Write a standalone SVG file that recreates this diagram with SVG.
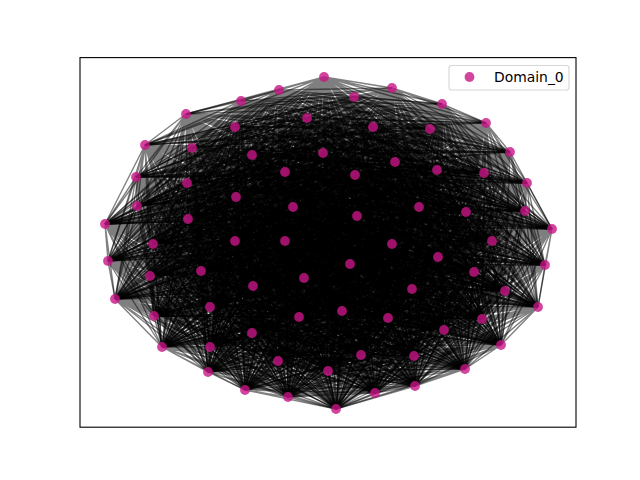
<svg xmlns="http://www.w3.org/2000/svg" width="640" height="480" viewBox="0 0 640 480">
<style>
.e{fill:none;stroke:#000;stroke-opacity:0.5;stroke-width:1.39;stroke-linejoin:bevel}
.n{fill:#c71585;fill-opacity:0.8}
.t{font-family:"DejaVu Sans",sans-serif;font-size:13.9px;fill:#000}
</style>
<rect x="0" y="0" width="640" height="480" fill="#fff"/>
<g id="connectors">
<path class="e" d="M324 77L279 90ZL392 88ZL241 101ZL354 97ZL442 104ZL186 114ZL307 118ZL373 127ZL486 123ZL235 127ZL430 129ZL145 145ZL192 148ZL252 155ZL323 153ZL395 162ZL510 152ZL285 172ZL355 175ZL437 170ZL484 173ZL136 177ZL187 183ZL527 183ZL137 206ZL236 197ZL293 207ZL419 207ZL466 212ZL525 211ZL188 219ZL357 216ZL105 224ZL552 229ZL153 244ZL235 241ZL285 241ZL392 244ZL492 241ZL108 261ZL350 264ZL438 257ZL545 265ZL150 276ZL201 271ZL474 272ZL304 278ZL253 286ZL412 289ZL505 291ZL115 299ZL538 307ZL210 307ZL342 311ZL299 317ZL388 318ZL482 319ZL154 316ZL444 330ZL252 333ZL501 345ZL162 347ZL210 347ZL361 355ZL414 356ZL278 361ZL208 372ZL328 371ZL465 369ZL245 390ZL415 386ZL375 393ZL288 397ZL336 409Z"/>
<path class="e" d="M279 90L392 88ZL241 101ZL354 97ZL442 104ZL186 114ZL307 118ZL373 127ZL486 123ZL235 127ZL430 129ZL145 145ZL192 148ZL252 155ZL323 153ZL395 162ZL510 152ZL285 172ZL355 175ZL437 170ZL484 173ZL136 177ZL187 183ZL527 183ZL137 206ZL236 197ZL293 207ZL419 207ZL466 212ZL525 211ZL188 219ZL357 216ZL105 224ZL552 229ZL153 244ZL235 241ZL285 241ZL392 244ZL492 241ZL108 261ZL350 264ZL438 257ZL545 265ZL150 276ZL201 271ZL474 272ZL304 278ZL253 286ZL412 289ZL505 291ZL115 299ZL538 307ZL210 307ZL342 311ZL299 317ZL388 318ZL482 319ZL154 316ZL444 330ZL252 333ZL501 345ZL162 347ZL210 347ZL361 355ZL414 356ZL278 361ZL208 372ZL328 371ZL465 369ZL245 390ZL415 386ZL375 393ZL288 397ZL336 409Z"/>
<path class="e" d="M392 88L241 101ZL354 97ZL442 104ZL186 114ZL307 118ZL373 127ZL486 123ZL235 127ZL430 129ZL145 145ZL192 148ZL252 155ZL323 153ZL395 162ZL510 152ZL285 172ZL355 175ZL437 170ZL484 173ZL136 177ZL187 183ZL527 183ZL137 206ZL236 197ZL293 207ZL419 207ZL466 212ZL525 211ZL188 219ZL357 216ZL105 224ZL552 229ZL153 244ZL235 241ZL285 241ZL392 244ZL492 241ZL108 261ZL350 264ZL438 257ZL545 265ZL150 276ZL201 271ZL474 272ZL304 278ZL253 286ZL412 289ZL505 291ZL115 299ZL538 307ZL210 307ZL342 311ZL299 317ZL388 318ZL482 319ZL154 316ZL444 330ZL252 333ZL501 345ZL162 347ZL210 347ZL361 355ZL414 356ZL278 361ZL208 372ZL328 371ZL465 369ZL245 390ZL415 386ZL375 393ZL288 397ZL336 409Z"/>
<path class="e" d="M241 101L354 97ZL442 104ZL186 114ZL307 118ZL373 127ZL486 123ZL235 127ZL430 129ZL145 145ZL192 148ZL252 155ZL323 153ZL395 162ZL510 152ZL285 172ZL355 175ZL437 170ZL484 173ZL136 177ZL187 183ZL527 183ZL137 206ZL236 197ZL293 207ZL419 207ZL466 212ZL525 211ZL188 219ZL357 216ZL105 224ZL552 229ZL153 244ZL235 241ZL285 241ZL392 244ZL492 241ZL108 261ZL350 264ZL438 257ZL545 265ZL150 276ZL201 271ZL474 272ZL304 278ZL253 286ZL412 289ZL505 291ZL115 299ZL538 307ZL210 307ZL342 311ZL299 317ZL388 318ZL482 319ZL154 316ZL444 330ZL252 333ZL501 345ZL162 347ZL210 347ZL361 355ZL414 356ZL278 361ZL208 372ZL328 371ZL465 369ZL245 390ZL415 386ZL375 393ZL288 397ZL336 409Z"/>
<path class="e" d="M354 97L442 104ZL186 114ZL307 118ZL373 127ZL486 123ZL235 127ZL430 129ZL145 145ZL192 148ZL252 155ZL323 153ZL395 162ZL510 152ZL285 172ZL355 175ZL437 170ZL484 173ZL136 177ZL187 183ZL527 183ZL137 206ZL236 197ZL293 207ZL419 207ZL466 212ZL525 211ZL188 219ZL357 216ZL105 224ZL552 229ZL153 244ZL235 241ZL285 241ZL392 244ZL492 241ZL108 261ZL350 264ZL438 257ZL545 265ZL150 276ZL201 271ZL474 272ZL304 278ZL253 286ZL412 289ZL505 291ZL115 299ZL538 307ZL210 307ZL342 311ZL299 317ZL388 318ZL482 319ZL154 316ZL444 330ZL252 333ZL501 345ZL162 347ZL210 347ZL361 355ZL414 356ZL278 361ZL208 372ZL328 371ZL465 369ZL245 390ZL415 386ZL375 393ZL288 397ZL336 409Z"/>
<path class="e" d="M442 104L186 114ZL307 118ZL373 127ZL486 123ZL235 127ZL430 129ZL145 145ZL192 148ZL252 155ZL323 153ZL395 162ZL510 152ZL285 172ZL355 175ZL437 170ZL484 173ZL136 177ZL187 183ZL527 183ZL137 206ZL236 197ZL293 207ZL419 207ZL466 212ZL525 211ZL188 219ZL357 216ZL105 224ZL552 229ZL153 244ZL235 241ZL285 241ZL392 244ZL492 241ZL108 261ZL350 264ZL438 257ZL545 265ZL150 276ZL201 271ZL474 272ZL304 278ZL253 286ZL412 289ZL505 291ZL115 299ZL538 307ZL210 307ZL342 311ZL299 317ZL388 318ZL482 319ZL154 316ZL444 330ZL252 333ZL501 345ZL162 347ZL210 347ZL361 355ZL414 356ZL278 361ZL208 372ZL328 371ZL465 369ZL245 390ZL415 386ZL375 393ZL288 397ZL336 409Z"/>
<path class="e" d="M186 114L307 118ZL373 127ZL486 123ZL235 127ZL430 129ZL145 145ZL192 148ZL252 155ZL323 153ZL395 162ZL510 152ZL285 172ZL355 175ZL437 170ZL484 173ZL136 177ZL187 183ZL527 183ZL137 206ZL236 197ZL293 207ZL419 207ZL466 212ZL525 211ZL188 219ZL357 216ZL105 224ZL552 229ZL153 244ZL235 241ZL285 241ZL392 244ZL492 241ZL108 261ZL350 264ZL438 257ZL545 265ZL150 276ZL201 271ZL474 272ZL304 278ZL253 286ZL412 289ZL505 291ZL115 299ZL538 307ZL210 307ZL342 311ZL299 317ZL388 318ZL482 319ZL154 316ZL444 330ZL252 333ZL501 345ZL162 347ZL210 347ZL361 355ZL414 356ZL278 361ZL208 372ZL328 371ZL465 369ZL245 390ZL415 386ZL375 393ZL288 397ZL336 409Z"/>
<path class="e" d="M307 118L373 127ZL486 123ZL235 127ZL430 129ZL145 145ZL192 148ZL252 155ZL323 153ZL395 162ZL510 152ZL285 172ZL355 175ZL437 170ZL484 173ZL136 177ZL187 183ZL527 183ZL137 206ZL236 197ZL293 207ZL419 207ZL466 212ZL525 211ZL188 219ZL357 216ZL105 224ZL552 229ZL153 244ZL235 241ZL285 241ZL392 244ZL492 241ZL108 261ZL350 264ZL438 257ZL545 265ZL150 276ZL201 271ZL474 272ZL304 278ZL253 286ZL412 289ZL505 291ZL115 299ZL538 307ZL210 307ZL342 311ZL299 317ZL388 318ZL482 319ZL154 316ZL444 330ZL252 333ZL501 345ZL162 347ZL210 347ZL361 355ZL414 356ZL278 361ZL208 372ZL328 371ZL465 369ZL245 390ZL415 386ZL375 393ZL288 397ZL336 409Z"/>
<path class="e" d="M373 127L486 123ZL235 127ZL430 129ZL145 145ZL192 148ZL252 155ZL323 153ZL395 162ZL510 152ZL285 172ZL355 175ZL437 170ZL484 173ZL136 177ZL187 183ZL527 183ZL137 206ZL236 197ZL293 207ZL419 207ZL466 212ZL525 211ZL188 219ZL357 216ZL105 224ZL552 229ZL153 244ZL235 241ZL285 241ZL392 244ZL492 241ZL108 261ZL350 264ZL438 257ZL545 265ZL150 276ZL201 271ZL474 272ZL304 278ZL253 286ZL412 289ZL505 291ZL115 299ZL538 307ZL210 307ZL342 311ZL299 317ZL388 318ZL482 319ZL154 316ZL444 330ZL252 333ZL501 345ZL162 347ZL210 347ZL361 355ZL414 356ZL278 361ZL208 372ZL328 371ZL465 369ZL245 390ZL415 386ZL375 393ZL288 397ZL336 409Z"/>
<path class="e" d="M486 123L235 127ZL430 129ZL145 145ZL192 148ZL252 155ZL323 153ZL395 162ZL510 152ZL285 172ZL355 175ZL437 170ZL484 173ZL136 177ZL187 183ZL527 183ZL137 206ZL236 197ZL293 207ZL419 207ZL466 212ZL525 211ZL188 219ZL357 216ZL105 224ZL552 229ZL153 244ZL235 241ZL285 241ZL392 244ZL492 241ZL108 261ZL350 264ZL438 257ZL545 265ZL150 276ZL201 271ZL474 272ZL304 278ZL253 286ZL412 289ZL505 291ZL115 299ZL538 307ZL210 307ZL342 311ZL299 317ZL388 318ZL482 319ZL154 316ZL444 330ZL252 333ZL501 345ZL162 347ZL210 347ZL361 355ZL414 356ZL278 361ZL208 372ZL328 371ZL465 369ZL245 390ZL415 386ZL375 393ZL288 397ZL336 409Z"/>
<path class="e" d="M235 127L430 129ZL145 145ZL192 148ZL252 155ZL323 153ZL395 162ZL510 152ZL285 172ZL355 175ZL437 170ZL484 173ZL136 177ZL187 183ZL527 183ZL137 206ZL236 197ZL293 207ZL419 207ZL466 212ZL525 211ZL188 219ZL357 216ZL105 224ZL552 229ZL153 244ZL235 241ZL285 241ZL392 244ZL492 241ZL108 261ZL350 264ZL438 257ZL545 265ZL150 276ZL201 271ZL474 272ZL304 278ZL253 286ZL412 289ZL505 291ZL115 299ZL538 307ZL210 307ZL342 311ZL299 317ZL388 318ZL482 319ZL154 316ZL444 330ZL252 333ZL501 345ZL162 347ZL210 347ZL361 355ZL414 356ZL278 361ZL208 372ZL328 371ZL465 369ZL245 390ZL415 386ZL375 393ZL288 397ZL336 409Z"/>
<path class="e" d="M430 129L145 145ZL192 148ZL252 155ZL323 153ZL395 162ZL510 152ZL285 172ZL355 175ZL437 170ZL484 173ZL136 177ZL187 183ZL527 183ZL137 206ZL236 197ZL293 207ZL419 207ZL466 212ZL525 211ZL188 219ZL357 216ZL105 224ZL552 229ZL153 244ZL235 241ZL285 241ZL392 244ZL492 241ZL108 261ZL350 264ZL438 257ZL545 265ZL150 276ZL201 271ZL474 272ZL304 278ZL253 286ZL412 289ZL505 291ZL115 299ZL538 307ZL210 307ZL342 311ZL299 317ZL388 318ZL482 319ZL154 316ZL444 330ZL252 333ZL501 345ZL162 347ZL210 347ZL361 355ZL414 356ZL278 361ZL208 372ZL328 371ZL465 369ZL245 390ZL415 386ZL375 393ZL288 397ZL336 409Z"/>
<path class="e" d="M145 145L192 148ZL252 155ZL323 153ZL395 162ZL510 152ZL285 172ZL355 175ZL437 170ZL484 173ZL136 177ZL187 183ZL527 183ZL137 206ZL236 197ZL293 207ZL419 207ZL466 212ZL525 211ZL188 219ZL357 216ZL105 224ZL552 229ZL153 244ZL235 241ZL285 241ZL392 244ZL492 241ZL108 261ZL350 264ZL438 257ZL545 265ZL150 276ZL201 271ZL474 272ZL304 278ZL253 286ZL412 289ZL505 291ZL115 299ZL538 307ZL210 307ZL342 311ZL299 317ZL388 318ZL482 319ZL154 316ZL444 330ZL252 333ZL501 345ZL162 347ZL210 347ZL361 355ZL414 356ZL278 361ZL208 372ZL328 371ZL465 369ZL245 390ZL415 386ZL375 393ZL288 397ZL336 409Z"/>
<path class="e" d="M192 148L252 155ZL323 153ZL395 162ZL510 152ZL285 172ZL355 175ZL437 170ZL484 173ZL136 177ZL187 183ZL527 183ZL137 206ZL236 197ZL293 207ZL419 207ZL466 212ZL525 211ZL188 219ZL357 216ZL105 224ZL552 229ZL153 244ZL235 241ZL285 241ZL392 244ZL492 241ZL108 261ZL350 264ZL438 257ZL545 265ZL150 276ZL201 271ZL474 272ZL304 278ZL253 286ZL412 289ZL505 291ZL115 299ZL538 307ZL210 307ZL342 311ZL299 317ZL388 318ZL482 319ZL154 316ZL444 330ZL252 333ZL501 345ZL162 347ZL210 347ZL361 355ZL414 356ZL278 361ZL208 372ZL328 371ZL465 369ZL245 390ZL415 386ZL375 393ZL288 397ZL336 409Z"/>
<path class="e" d="M252 155L323 153ZL395 162ZL510 152ZL285 172ZL355 175ZL437 170ZL484 173ZL136 177ZL187 183ZL527 183ZL137 206ZL236 197ZL293 207ZL419 207ZL466 212ZL525 211ZL188 219ZL357 216ZL105 224ZL552 229ZL153 244ZL235 241ZL285 241ZL392 244ZL492 241ZL108 261ZL350 264ZL438 257ZL545 265ZL150 276ZL201 271ZL474 272ZL304 278ZL253 286ZL412 289ZL505 291ZL115 299ZL538 307ZL210 307ZL342 311ZL299 317ZL388 318ZL482 319ZL154 316ZL444 330ZL252 333ZL501 345ZL162 347ZL210 347ZL361 355ZL414 356ZL278 361ZL208 372ZL328 371ZL465 369ZL245 390ZL415 386ZL375 393ZL288 397ZL336 409Z"/>
<path class="e" d="M323 153L395 162ZL510 152ZL285 172ZL355 175ZL437 170ZL484 173ZL136 177ZL187 183ZL527 183ZL137 206ZL236 197ZL293 207ZL419 207ZL466 212ZL525 211ZL188 219ZL357 216ZL105 224ZL552 229ZL153 244ZL235 241ZL285 241ZL392 244ZL492 241ZL108 261ZL350 264ZL438 257ZL545 265ZL150 276ZL201 271ZL474 272ZL304 278ZL253 286ZL412 289ZL505 291ZL115 299ZL538 307ZL210 307ZL342 311ZL299 317ZL388 318ZL482 319ZL154 316ZL444 330ZL252 333ZL501 345ZL162 347ZL210 347ZL361 355ZL414 356ZL278 361ZL208 372ZL328 371ZL465 369ZL245 390ZL415 386ZL375 393ZL288 397ZL336 409Z"/>
<path class="e" d="M395 162L510 152ZL285 172ZL355 175ZL437 170ZL484 173ZL136 177ZL187 183ZL527 183ZL137 206ZL236 197ZL293 207ZL419 207ZL466 212ZL525 211ZL188 219ZL357 216ZL105 224ZL552 229ZL153 244ZL235 241ZL285 241ZL392 244ZL492 241ZL108 261ZL350 264ZL438 257ZL545 265ZL150 276ZL201 271ZL474 272ZL304 278ZL253 286ZL412 289ZL505 291ZL115 299ZL538 307ZL210 307ZL342 311ZL299 317ZL388 318ZL482 319ZL154 316ZL444 330ZL252 333ZL501 345ZL162 347ZL210 347ZL361 355ZL414 356ZL278 361ZL208 372ZL328 371ZL465 369ZL245 390ZL415 386ZL375 393ZL288 397ZL336 409Z"/>
<path class="e" d="M510 152L285 172ZL355 175ZL437 170ZL484 173ZL136 177ZL187 183ZL527 183ZL137 206ZL236 197ZL293 207ZL419 207ZL466 212ZL525 211ZL188 219ZL357 216ZL105 224ZL552 229ZL153 244ZL235 241ZL285 241ZL392 244ZL492 241ZL108 261ZL350 264ZL438 257ZL545 265ZL150 276ZL201 271ZL474 272ZL304 278ZL253 286ZL412 289ZL505 291ZL115 299ZL538 307ZL210 307ZL342 311ZL299 317ZL388 318ZL482 319ZL154 316ZL444 330ZL252 333ZL501 345ZL162 347ZL210 347ZL361 355ZL414 356ZL278 361ZL208 372ZL328 371ZL465 369ZL245 390ZL415 386ZL375 393ZL288 397ZL336 409Z"/>
<path class="e" d="M285 172L355 175ZL437 170ZL484 173ZL136 177ZL187 183ZL527 183ZL137 206ZL236 197ZL293 207ZL419 207ZL466 212ZL525 211ZL188 219ZL357 216ZL105 224ZL552 229ZL153 244ZL235 241ZL285 241ZL392 244ZL492 241ZL108 261ZL350 264ZL438 257ZL545 265ZL150 276ZL201 271ZL474 272ZL304 278ZL253 286ZL412 289ZL505 291ZL115 299ZL538 307ZL210 307ZL342 311ZL299 317ZL388 318ZL482 319ZL154 316ZL444 330ZL252 333ZL501 345ZL162 347ZL210 347ZL361 355ZL414 356ZL278 361ZL208 372ZL328 371ZL465 369ZL245 390ZL415 386ZL375 393ZL288 397ZL336 409Z"/>
<path class="e" d="M355 175L437 170ZL484 173ZL136 177ZL187 183ZL527 183ZL137 206ZL236 197ZL293 207ZL419 207ZL466 212ZL525 211ZL188 219ZL357 216ZL105 224ZL552 229ZL153 244ZL235 241ZL285 241ZL392 244ZL492 241ZL108 261ZL350 264ZL438 257ZL545 265ZL150 276ZL201 271ZL474 272ZL304 278ZL253 286ZL412 289ZL505 291ZL115 299ZL538 307ZL210 307ZL342 311ZL299 317ZL388 318ZL482 319ZL154 316ZL444 330ZL252 333ZL501 345ZL162 347ZL210 347ZL361 355ZL414 356ZL278 361ZL208 372ZL328 371ZL465 369ZL245 390ZL415 386ZL375 393ZL288 397ZL336 409Z"/>
<path class="e" d="M437 170L484 173ZL136 177ZL187 183ZL527 183ZL137 206ZL236 197ZL293 207ZL419 207ZL466 212ZL525 211ZL188 219ZL357 216ZL105 224ZL552 229ZL153 244ZL235 241ZL285 241ZL392 244ZL492 241ZL108 261ZL350 264ZL438 257ZL545 265ZL150 276ZL201 271ZL474 272ZL304 278ZL253 286ZL412 289ZL505 291ZL115 299ZL538 307ZL210 307ZL342 311ZL299 317ZL388 318ZL482 319ZL154 316ZL444 330ZL252 333ZL501 345ZL162 347ZL210 347ZL361 355ZL414 356ZL278 361ZL208 372ZL328 371ZL465 369ZL245 390ZL415 386ZL375 393ZL288 397ZL336 409Z"/>
<path class="e" d="M484 173L136 177ZL187 183ZL527 183ZL137 206ZL236 197ZL293 207ZL419 207ZL466 212ZL525 211ZL188 219ZL357 216ZL105 224ZL552 229ZL153 244ZL235 241ZL285 241ZL392 244ZL492 241ZL108 261ZL350 264ZL438 257ZL545 265ZL150 276ZL201 271ZL474 272ZL304 278ZL253 286ZL412 289ZL505 291ZL115 299ZL538 307ZL210 307ZL342 311ZL299 317ZL388 318ZL482 319ZL154 316ZL444 330ZL252 333ZL501 345ZL162 347ZL210 347ZL361 355ZL414 356ZL278 361ZL208 372ZL328 371ZL465 369ZL245 390ZL415 386ZL375 393ZL288 397ZL336 409Z"/>
<path class="e" d="M136 177L187 183ZL527 183ZL137 206ZL236 197ZL293 207ZL419 207ZL466 212ZL525 211ZL188 219ZL357 216ZL105 224ZL552 229ZL153 244ZL235 241ZL285 241ZL392 244ZL492 241ZL108 261ZL350 264ZL438 257ZL545 265ZL150 276ZL201 271ZL474 272ZL304 278ZL253 286ZL412 289ZL505 291ZL115 299ZL538 307ZL210 307ZL342 311ZL299 317ZL388 318ZL482 319ZL154 316ZL444 330ZL252 333ZL501 345ZL162 347ZL210 347ZL361 355ZL414 356ZL278 361ZL208 372ZL328 371ZL465 369ZL245 390ZL415 386ZL375 393ZL288 397ZL336 409Z"/>
<path class="e" d="M187 183L527 183ZL137 206ZL236 197ZL293 207ZL419 207ZL466 212ZL525 211ZL188 219ZL357 216ZL105 224ZL552 229ZL153 244ZL235 241ZL285 241ZL392 244ZL492 241ZL108 261ZL350 264ZL438 257ZL545 265ZL150 276ZL201 271ZL474 272ZL304 278ZL253 286ZL412 289ZL505 291ZL115 299ZL538 307ZL210 307ZL342 311ZL299 317ZL388 318ZL482 319ZL154 316ZL444 330ZL252 333ZL501 345ZL162 347ZL210 347ZL361 355ZL414 356ZL278 361ZL208 372ZL328 371ZL465 369ZL245 390ZL415 386ZL375 393ZL288 397ZL336 409Z"/>
<path class="e" d="M527 183L137 206ZL236 197ZL293 207ZL419 207ZL466 212ZL525 211ZL188 219ZL357 216ZL105 224ZL552 229ZL153 244ZL235 241ZL285 241ZL392 244ZL492 241ZL108 261ZL350 264ZL438 257ZL545 265ZL150 276ZL201 271ZL474 272ZL304 278ZL253 286ZL412 289ZL505 291ZL115 299ZL538 307ZL210 307ZL342 311ZL299 317ZL388 318ZL482 319ZL154 316ZL444 330ZL252 333ZL501 345ZL162 347ZL210 347ZL361 355ZL414 356ZL278 361ZL208 372ZL328 371ZL465 369ZL245 390ZL415 386ZL375 393ZL288 397ZL336 409Z"/>
<path class="e" d="M137 206L236 197ZL293 207ZL419 207ZL466 212ZL525 211ZL188 219ZL357 216ZL105 224ZL552 229ZL153 244ZL235 241ZL285 241ZL392 244ZL492 241ZL108 261ZL350 264ZL438 257ZL545 265ZL150 276ZL201 271ZL474 272ZL304 278ZL253 286ZL412 289ZL505 291ZL115 299ZL538 307ZL210 307ZL342 311ZL299 317ZL388 318ZL482 319ZL154 316ZL444 330ZL252 333ZL501 345ZL162 347ZL210 347ZL361 355ZL414 356ZL278 361ZL208 372ZL328 371ZL465 369ZL245 390ZL415 386ZL375 393ZL288 397ZL336 409Z"/>
<path class="e" d="M236 197L293 207ZL419 207ZL466 212ZL525 211ZL188 219ZL357 216ZL105 224ZL552 229ZL153 244ZL235 241ZL285 241ZL392 244ZL492 241ZL108 261ZL350 264ZL438 257ZL545 265ZL150 276ZL201 271ZL474 272ZL304 278ZL253 286ZL412 289ZL505 291ZL115 299ZL538 307ZL210 307ZL342 311ZL299 317ZL388 318ZL482 319ZL154 316ZL444 330ZL252 333ZL501 345ZL162 347ZL210 347ZL361 355ZL414 356ZL278 361ZL208 372ZL328 371ZL465 369ZL245 390ZL415 386ZL375 393ZL288 397ZL336 409Z"/>
<path class="e" d="M293 207L419 207ZL466 212ZL525 211ZL188 219ZL357 216ZL105 224ZL552 229ZL153 244ZL235 241ZL285 241ZL392 244ZL492 241ZL108 261ZL350 264ZL438 257ZL545 265ZL150 276ZL201 271ZL474 272ZL304 278ZL253 286ZL412 289ZL505 291ZL115 299ZL538 307ZL210 307ZL342 311ZL299 317ZL388 318ZL482 319ZL154 316ZL444 330ZL252 333ZL501 345ZL162 347ZL210 347ZL361 355ZL414 356ZL278 361ZL208 372ZL328 371ZL465 369ZL245 390ZL415 386ZL375 393ZL288 397ZL336 409Z"/>
<path class="e" d="M419 207L466 212ZL525 211ZL188 219ZL357 216ZL105 224ZL552 229ZL153 244ZL235 241ZL285 241ZL392 244ZL492 241ZL108 261ZL350 264ZL438 257ZL545 265ZL150 276ZL201 271ZL474 272ZL304 278ZL253 286ZL412 289ZL505 291ZL115 299ZL538 307ZL210 307ZL342 311ZL299 317ZL388 318ZL482 319ZL154 316ZL444 330ZL252 333ZL501 345ZL162 347ZL210 347ZL361 355ZL414 356ZL278 361ZL208 372ZL328 371ZL465 369ZL245 390ZL415 386ZL375 393ZL288 397ZL336 409Z"/>
<path class="e" d="M466 212L525 211ZL188 219ZL357 216ZL105 224ZL552 229ZL153 244ZL235 241ZL285 241ZL392 244ZL492 241ZL108 261ZL350 264ZL438 257ZL545 265ZL150 276ZL201 271ZL474 272ZL304 278ZL253 286ZL412 289ZL505 291ZL115 299ZL538 307ZL210 307ZL342 311ZL299 317ZL388 318ZL482 319ZL154 316ZL444 330ZL252 333ZL501 345ZL162 347ZL210 347ZL361 355ZL414 356ZL278 361ZL208 372ZL328 371ZL465 369ZL245 390ZL415 386ZL375 393ZL288 397ZL336 409Z"/>
<path class="e" d="M525 211L188 219ZL357 216ZL105 224ZL552 229ZL153 244ZL235 241ZL285 241ZL392 244ZL492 241ZL108 261ZL350 264ZL438 257ZL545 265ZL150 276ZL201 271ZL474 272ZL304 278ZL253 286ZL412 289ZL505 291ZL115 299ZL538 307ZL210 307ZL342 311ZL299 317ZL388 318ZL482 319ZL154 316ZL444 330ZL252 333ZL501 345ZL162 347ZL210 347ZL361 355ZL414 356ZL278 361ZL208 372ZL328 371ZL465 369ZL245 390ZL415 386ZL375 393ZL288 397ZL336 409Z"/>
<path class="e" d="M188 219L357 216ZL105 224ZL552 229ZL153 244ZL235 241ZL285 241ZL392 244ZL492 241ZL108 261ZL350 264ZL438 257ZL545 265ZL150 276ZL201 271ZL474 272ZL304 278ZL253 286ZL412 289ZL505 291ZL115 299ZL538 307ZL210 307ZL342 311ZL299 317ZL388 318ZL482 319ZL154 316ZL444 330ZL252 333ZL501 345ZL162 347ZL210 347ZL361 355ZL414 356ZL278 361ZL208 372ZL328 371ZL465 369ZL245 390ZL415 386ZL375 393ZL288 397ZL336 409Z"/>
<path class="e" d="M357 216L105 224ZL552 229ZL153 244ZL235 241ZL285 241ZL392 244ZL492 241ZL108 261ZL350 264ZL438 257ZL545 265ZL150 276ZL201 271ZL474 272ZL304 278ZL253 286ZL412 289ZL505 291ZL115 299ZL538 307ZL210 307ZL342 311ZL299 317ZL388 318ZL482 319ZL154 316ZL444 330ZL252 333ZL501 345ZL162 347ZL210 347ZL361 355ZL414 356ZL278 361ZL208 372ZL328 371ZL465 369ZL245 390ZL415 386ZL375 393ZL288 397ZL336 409Z"/>
<path class="e" d="M105 224L552 229ZL153 244ZL235 241ZL285 241ZL392 244ZL492 241ZL108 261ZL350 264ZL438 257ZL545 265ZL150 276ZL201 271ZL474 272ZL304 278ZL253 286ZL412 289ZL505 291ZL115 299ZL538 307ZL210 307ZL342 311ZL299 317ZL388 318ZL482 319ZL154 316ZL444 330ZL252 333ZL501 345ZL162 347ZL210 347ZL361 355ZL414 356ZL278 361ZL208 372ZL328 371ZL465 369ZL245 390ZL415 386ZL375 393ZL288 397ZL336 409Z"/>
<path class="e" d="M552 229L153 244ZL235 241ZL285 241ZL392 244ZL492 241ZL108 261ZL350 264ZL438 257ZL545 265ZL150 276ZL201 271ZL474 272ZL304 278ZL253 286ZL412 289ZL505 291ZL115 299ZL538 307ZL210 307ZL342 311ZL299 317ZL388 318ZL482 319ZL154 316ZL444 330ZL252 333ZL501 345ZL162 347ZL210 347ZL361 355ZL414 356ZL278 361ZL208 372ZL328 371ZL465 369ZL245 390ZL415 386ZL375 393ZL288 397ZL336 409Z"/>
<path class="e" d="M153 244L235 241ZL285 241ZL392 244ZL492 241ZL108 261ZL350 264ZL438 257ZL545 265ZL150 276ZL201 271ZL474 272ZL304 278ZL253 286ZL412 289ZL505 291ZL115 299ZL538 307ZL210 307ZL342 311ZL299 317ZL388 318ZL482 319ZL154 316ZL444 330ZL252 333ZL501 345ZL162 347ZL210 347ZL361 355ZL414 356ZL278 361ZL208 372ZL328 371ZL465 369ZL245 390ZL415 386ZL375 393ZL288 397ZL336 409Z"/>
<path class="e" d="M235 241L285 241ZL392 244ZL492 241ZL108 261ZL350 264ZL438 257ZL545 265ZL150 276ZL201 271ZL474 272ZL304 278ZL253 286ZL412 289ZL505 291ZL115 299ZL538 307ZL210 307ZL342 311ZL299 317ZL388 318ZL482 319ZL154 316ZL444 330ZL252 333ZL501 345ZL162 347ZL210 347ZL361 355ZL414 356ZL278 361ZL208 372ZL328 371ZL465 369ZL245 390ZL415 386ZL375 393ZL288 397ZL336 409Z"/>
<path class="e" d="M285 241L392 244ZL492 241ZL108 261ZL350 264ZL438 257ZL545 265ZL150 276ZL201 271ZL474 272ZL304 278ZL253 286ZL412 289ZL505 291ZL115 299ZL538 307ZL210 307ZL342 311ZL299 317ZL388 318ZL482 319ZL154 316ZL444 330ZL252 333ZL501 345ZL162 347ZL210 347ZL361 355ZL414 356ZL278 361ZL208 372ZL328 371ZL465 369ZL245 390ZL415 386ZL375 393ZL288 397ZL336 409Z"/>
<path class="e" d="M392 244L492 241ZL108 261ZL350 264ZL438 257ZL545 265ZL150 276ZL201 271ZL474 272ZL304 278ZL253 286ZL412 289ZL505 291ZL115 299ZL538 307ZL210 307ZL342 311ZL299 317ZL388 318ZL482 319ZL154 316ZL444 330ZL252 333ZL501 345ZL162 347ZL210 347ZL361 355ZL414 356ZL278 361ZL208 372ZL328 371ZL465 369ZL245 390ZL415 386ZL375 393ZL288 397ZL336 409Z"/>
<path class="e" d="M492 241L108 261ZL350 264ZL438 257ZL545 265ZL150 276ZL201 271ZL474 272ZL304 278ZL253 286ZL412 289ZL505 291ZL115 299ZL538 307ZL210 307ZL342 311ZL299 317ZL388 318ZL482 319ZL154 316ZL444 330ZL252 333ZL501 345ZL162 347ZL210 347ZL361 355ZL414 356ZL278 361ZL208 372ZL328 371ZL465 369ZL245 390ZL415 386ZL375 393ZL288 397ZL336 409Z"/>
<path class="e" d="M108 261L350 264ZL438 257ZL545 265ZL150 276ZL201 271ZL474 272ZL304 278ZL253 286ZL412 289ZL505 291ZL115 299ZL538 307ZL210 307ZL342 311ZL299 317ZL388 318ZL482 319ZL154 316ZL444 330ZL252 333ZL501 345ZL162 347ZL210 347ZL361 355ZL414 356ZL278 361ZL208 372ZL328 371ZL465 369ZL245 390ZL415 386ZL375 393ZL288 397ZL336 409Z"/>
<path class="e" d="M350 264L438 257ZL545 265ZL150 276ZL201 271ZL474 272ZL304 278ZL253 286ZL412 289ZL505 291ZL115 299ZL538 307ZL210 307ZL342 311ZL299 317ZL388 318ZL482 319ZL154 316ZL444 330ZL252 333ZL501 345ZL162 347ZL210 347ZL361 355ZL414 356ZL278 361ZL208 372ZL328 371ZL465 369ZL245 390ZL415 386ZL375 393ZL288 397ZL336 409Z"/>
<path class="e" d="M438 257L545 265ZL150 276ZL201 271ZL474 272ZL304 278ZL253 286ZL412 289ZL505 291ZL115 299ZL538 307ZL210 307ZL342 311ZL299 317ZL388 318ZL482 319ZL154 316ZL444 330ZL252 333ZL501 345ZL162 347ZL210 347ZL361 355ZL414 356ZL278 361ZL208 372ZL328 371ZL465 369ZL245 390ZL415 386ZL375 393ZL288 397ZL336 409Z"/>
<path class="e" d="M545 265L150 276ZL201 271ZL474 272ZL304 278ZL253 286ZL412 289ZL505 291ZL115 299ZL538 307ZL210 307ZL342 311ZL299 317ZL388 318ZL482 319ZL154 316ZL444 330ZL252 333ZL501 345ZL162 347ZL210 347ZL361 355ZL414 356ZL278 361ZL208 372ZL328 371ZL465 369ZL245 390ZL415 386ZL375 393ZL288 397ZL336 409Z"/>
<path class="e" d="M150 276L201 271ZL474 272ZL304 278ZL253 286ZL412 289ZL505 291ZL115 299ZL538 307ZL210 307ZL342 311ZL299 317ZL388 318ZL482 319ZL154 316ZL444 330ZL252 333ZL501 345ZL162 347ZL210 347ZL361 355ZL414 356ZL278 361ZL208 372ZL328 371ZL465 369ZL245 390ZL415 386ZL375 393ZL288 397ZL336 409Z"/>
<path class="e" d="M201 271L474 272ZL304 278ZL253 286ZL412 289ZL505 291ZL115 299ZL538 307ZL210 307ZL342 311ZL299 317ZL388 318ZL482 319ZL154 316ZL444 330ZL252 333ZL501 345ZL162 347ZL210 347ZL361 355ZL414 356ZL278 361ZL208 372ZL328 371ZL465 369ZL245 390ZL415 386ZL375 393ZL288 397ZL336 409Z"/>
<path class="e" d="M474 272L304 278ZL253 286ZL412 289ZL505 291ZL115 299ZL538 307ZL210 307ZL342 311ZL299 317ZL388 318ZL482 319ZL154 316ZL444 330ZL252 333ZL501 345ZL162 347ZL210 347ZL361 355ZL414 356ZL278 361ZL208 372ZL328 371ZL465 369ZL245 390ZL415 386ZL375 393ZL288 397ZL336 409Z"/>
<path class="e" d="M304 278L253 286ZL412 289ZL505 291ZL115 299ZL538 307ZL210 307ZL342 311ZL299 317ZL388 318ZL482 319ZL154 316ZL444 330ZL252 333ZL501 345ZL162 347ZL210 347ZL361 355ZL414 356ZL278 361ZL208 372ZL328 371ZL465 369ZL245 390ZL415 386ZL375 393ZL288 397ZL336 409Z"/>
<path class="e" d="M253 286L412 289ZL505 291ZL115 299ZL538 307ZL210 307ZL342 311ZL299 317ZL388 318ZL482 319ZL154 316ZL444 330ZL252 333ZL501 345ZL162 347ZL210 347ZL361 355ZL414 356ZL278 361ZL208 372ZL328 371ZL465 369ZL245 390ZL415 386ZL375 393ZL288 397ZL336 409Z"/>
<path class="e" d="M412 289L505 291ZL115 299ZL538 307ZL210 307ZL342 311ZL299 317ZL388 318ZL482 319ZL154 316ZL444 330ZL252 333ZL501 345ZL162 347ZL210 347ZL361 355ZL414 356ZL278 361ZL208 372ZL328 371ZL465 369ZL245 390ZL415 386ZL375 393ZL288 397ZL336 409Z"/>
<path class="e" d="M505 291L115 299ZL538 307ZL210 307ZL342 311ZL299 317ZL388 318ZL482 319ZL154 316ZL444 330ZL252 333ZL501 345ZL162 347ZL210 347ZL361 355ZL414 356ZL278 361ZL208 372ZL328 371ZL465 369ZL245 390ZL415 386ZL375 393ZL288 397ZL336 409Z"/>
<path class="e" d="M115 299L538 307ZL210 307ZL342 311ZL299 317ZL388 318ZL482 319ZL154 316ZL444 330ZL252 333ZL501 345ZL162 347ZL210 347ZL361 355ZL414 356ZL278 361ZL208 372ZL328 371ZL465 369ZL245 390ZL415 386ZL375 393ZL288 397ZL336 409Z"/>
<path class="e" d="M538 307L210 307ZL342 311ZL299 317ZL388 318ZL482 319ZL154 316ZL444 330ZL252 333ZL501 345ZL162 347ZL210 347ZL361 355ZL414 356ZL278 361ZL208 372ZL328 371ZL465 369ZL245 390ZL415 386ZL375 393ZL288 397ZL336 409Z"/>
<path class="e" d="M210 307L342 311ZL299 317ZL388 318ZL482 319ZL154 316ZL444 330ZL252 333ZL501 345ZL162 347ZL210 347ZL361 355ZL414 356ZL278 361ZL208 372ZL328 371ZL465 369ZL245 390ZL415 386ZL375 393ZL288 397ZL336 409Z"/>
<path class="e" d="M342 311L299 317ZL388 318ZL482 319ZL154 316ZL444 330ZL252 333ZL501 345ZL162 347ZL210 347ZL361 355ZL414 356ZL278 361ZL208 372ZL328 371ZL465 369ZL245 390ZL415 386ZL375 393ZL288 397ZL336 409Z"/>
<path class="e" d="M299 317L388 318ZL482 319ZL154 316ZL444 330ZL252 333ZL501 345ZL162 347ZL210 347ZL361 355ZL414 356ZL278 361ZL208 372ZL328 371ZL465 369ZL245 390ZL415 386ZL375 393ZL288 397ZL336 409Z"/>
<path class="e" d="M388 318L482 319ZL154 316ZL444 330ZL252 333ZL501 345ZL162 347ZL210 347ZL361 355ZL414 356ZL278 361ZL208 372ZL328 371ZL465 369ZL245 390ZL415 386ZL375 393ZL288 397ZL336 409Z"/>
<path class="e" d="M482 319L154 316ZL444 330ZL252 333ZL501 345ZL162 347ZL210 347ZL361 355ZL414 356ZL278 361ZL208 372ZL328 371ZL465 369ZL245 390ZL415 386ZL375 393ZL288 397ZL336 409Z"/>
<path class="e" d="M154 316L444 330ZL252 333ZL501 345ZL162 347ZL210 347ZL361 355ZL414 356ZL278 361ZL208 372ZL328 371ZL465 369ZL245 390ZL415 386ZL375 393ZL288 397ZL336 409Z"/>
<path class="e" d="M444 330L252 333ZL501 345ZL162 347ZL210 347ZL361 355ZL414 356ZL278 361ZL208 372ZL328 371ZL465 369ZL245 390ZL415 386ZL375 393ZL288 397ZL336 409Z"/>
<path class="e" d="M252 333L501 345ZL162 347ZL210 347ZL361 355ZL414 356ZL278 361ZL208 372ZL328 371ZL465 369ZL245 390ZL415 386ZL375 393ZL288 397ZL336 409Z"/>
<path class="e" d="M501 345L162 347ZL210 347ZL361 355ZL414 356ZL278 361ZL208 372ZL328 371ZL465 369ZL245 390ZL415 386ZL375 393ZL288 397ZL336 409Z"/>
<path class="e" d="M162 347L210 347ZL361 355ZL414 356ZL278 361ZL208 372ZL328 371ZL465 369ZL245 390ZL415 386ZL375 393ZL288 397ZL336 409Z"/>
<path class="e" d="M210 347L361 355ZL414 356ZL278 361ZL208 372ZL328 371ZL465 369ZL245 390ZL415 386ZL375 393ZL288 397ZL336 409Z"/>
<path class="e" d="M361 355L414 356ZL278 361ZL208 372ZL328 371ZL465 369ZL245 390ZL415 386ZL375 393ZL288 397ZL336 409Z"/>
<path class="e" d="M414 356L278 361ZL208 372ZL328 371ZL465 369ZL245 390ZL415 386ZL375 393ZL288 397ZL336 409Z"/>
<path class="e" d="M278 361L208 372ZL328 371ZL465 369ZL245 390ZL415 386ZL375 393ZL288 397ZL336 409Z"/>
<path class="e" d="M208 372L328 371ZL465 369ZL245 390ZL415 386ZL375 393ZL288 397ZL336 409Z"/>
<path class="e" d="M328 371L465 369ZL245 390ZL415 386ZL375 393ZL288 397ZL336 409Z"/>
<path class="e" d="M465 369L245 390ZL415 386ZL375 393ZL288 397ZL336 409Z"/>
<path class="e" d="M245 390L415 386ZL375 393ZL288 397ZL336 409Z"/>
<path class="e" d="M415 386L375 393ZL288 397ZL336 409Z"/>
<path class="e" d="M375 393L288 397ZL336 409Z"/>
<path class="e" d="M288 397L336 409Z"/>
</g>
<g id="nodes">
<g id="n1"><circle class="n" cx="324" cy="77" r="4.9"/></g>
<g id="n2"><circle class="n" cx="279" cy="90" r="4.9"/></g>
<g id="n3"><circle class="n" cx="392" cy="88" r="4.9"/></g>
<g id="n4"><circle class="n" cx="241" cy="101" r="4.9"/></g>
<g id="n5"><circle class="n" cx="354" cy="97" r="4.9"/></g>
<g id="n6"><circle class="n" cx="442" cy="104" r="4.9"/></g>
<g id="n7"><circle class="n" cx="186" cy="114" r="4.9"/></g>
<g id="n8"><circle class="n" cx="307" cy="118" r="4.9"/></g>
<g id="n9"><circle class="n" cx="373" cy="127" r="4.9"/></g>
<g id="n10"><circle class="n" cx="486" cy="123" r="4.9"/></g>
<g id="n11"><circle class="n" cx="235" cy="127" r="4.9"/></g>
<g id="n12"><circle class="n" cx="430" cy="129" r="4.9"/></g>
<g id="n13"><circle class="n" cx="145" cy="145" r="4.9"/></g>
<g id="n14"><circle class="n" cx="192" cy="148" r="4.9"/></g>
<g id="n15"><circle class="n" cx="252" cy="155" r="4.9"/></g>
<g id="n16"><circle class="n" cx="323" cy="153" r="4.9"/></g>
<g id="n17"><circle class="n" cx="395" cy="162" r="4.9"/></g>
<g id="n18"><circle class="n" cx="510" cy="152" r="4.9"/></g>
<g id="n19"><circle class="n" cx="285" cy="172" r="4.9"/></g>
<g id="n20"><circle class="n" cx="355" cy="175" r="4.9"/></g>
<g id="n21"><circle class="n" cx="437" cy="170" r="4.9"/></g>
<g id="n22"><circle class="n" cx="484" cy="173" r="4.9"/></g>
<g id="n23"><circle class="n" cx="136" cy="177" r="4.9"/></g>
<g id="n24"><circle class="n" cx="187" cy="183" r="4.9"/></g>
<g id="n25"><circle class="n" cx="527" cy="183" r="4.9"/></g>
<g id="n26"><circle class="n" cx="137" cy="206" r="4.9"/></g>
<g id="n27"><circle class="n" cx="236" cy="197" r="4.9"/></g>
<g id="n28"><circle class="n" cx="293" cy="207" r="4.9"/></g>
<g id="n29"><circle class="n" cx="419" cy="207" r="4.9"/></g>
<g id="n30"><circle class="n" cx="466" cy="212" r="4.9"/></g>
<g id="n31"><circle class="n" cx="525" cy="211" r="4.9"/></g>
<g id="n32"><circle class="n" cx="188" cy="219" r="4.9"/></g>
<g id="n33"><circle class="n" cx="357" cy="216" r="4.9"/></g>
<g id="n34"><circle class="n" cx="105" cy="224" r="4.9"/></g>
<g id="n35"><circle class="n" cx="552" cy="229" r="4.9"/></g>
<g id="n36"><circle class="n" cx="153" cy="244" r="4.9"/></g>
<g id="n37"><circle class="n" cx="235" cy="241" r="4.9"/></g>
<g id="n38"><circle class="n" cx="285" cy="241" r="4.9"/></g>
<g id="n39"><circle class="n" cx="392" cy="244" r="4.9"/></g>
<g id="n40"><circle class="n" cx="492" cy="241" r="4.9"/></g>
<g id="n41"><circle class="n" cx="108" cy="261" r="4.9"/></g>
<g id="n42"><circle class="n" cx="350" cy="264" r="4.9"/></g>
<g id="n43"><circle class="n" cx="438" cy="257" r="4.9"/></g>
<g id="n44"><circle class="n" cx="545" cy="265" r="4.9"/></g>
<g id="n45"><circle class="n" cx="150" cy="276" r="4.9"/></g>
<g id="n46"><circle class="n" cx="201" cy="271" r="4.9"/></g>
<g id="n47"><circle class="n" cx="474" cy="272" r="4.9"/></g>
<g id="n48"><circle class="n" cx="304" cy="278" r="4.9"/></g>
<g id="n49"><circle class="n" cx="253" cy="286" r="4.9"/></g>
<g id="n50"><circle class="n" cx="412" cy="289" r="4.9"/></g>
<g id="n51"><circle class="n" cx="505" cy="291" r="4.9"/></g>
<g id="n52"><circle class="n" cx="115" cy="299" r="4.9"/></g>
<g id="n53"><circle class="n" cx="538" cy="307" r="4.9"/></g>
<g id="n54"><circle class="n" cx="210" cy="307" r="4.9"/></g>
<g id="n55"><circle class="n" cx="342" cy="311" r="4.9"/></g>
<g id="n56"><circle class="n" cx="299" cy="317" r="4.9"/></g>
<g id="n57"><circle class="n" cx="388" cy="318" r="4.9"/></g>
<g id="n58"><circle class="n" cx="482" cy="319" r="4.9"/></g>
<g id="n59"><circle class="n" cx="154" cy="316" r="4.9"/></g>
<g id="n60"><circle class="n" cx="444" cy="330" r="4.9"/></g>
<g id="n61"><circle class="n" cx="252" cy="333" r="4.9"/></g>
<g id="n62"><circle class="n" cx="501" cy="345" r="4.9"/></g>
<g id="n63"><circle class="n" cx="162" cy="347" r="4.9"/></g>
<g id="n64"><circle class="n" cx="210" cy="347" r="4.9"/></g>
<g id="n65"><circle class="n" cx="361" cy="355" r="4.9"/></g>
<g id="n66"><circle class="n" cx="414" cy="356" r="4.9"/></g>
<g id="n67"><circle class="n" cx="278" cy="361" r="4.9"/></g>
<g id="n68"><circle class="n" cx="208" cy="372" r="4.9"/></g>
<g id="n69"><circle class="n" cx="328" cy="371" r="4.9"/></g>
<g id="n70"><circle class="n" cx="465" cy="369" r="4.9"/></g>
<g id="n71"><circle class="n" cx="245" cy="390" r="4.9"/></g>
<g id="n72"><circle class="n" cx="415" cy="386" r="4.9"/></g>
<g id="n73"><circle class="n" cx="375" cy="393" r="4.9"/></g>
<g id="n74"><circle class="n" cx="288" cy="397" r="4.9"/></g>
<g id="n75"><circle class="n" cx="336" cy="409" r="4.9"/></g>
</g>
<rect x="80" y="57.6" width="496" height="369.6" fill="none" stroke="#000" stroke-width="1.1"/>
<g id="legend">
<rect x="449" y="65.5" width="120" height="24.5" rx="2.8" fill="#fff" fill-opacity="0.8" stroke="#ccc" stroke-opacity="0.8" stroke-width="1.1"/>
<circle class="n" cx="469.5" cy="77" r="4.9"/>
<text class="t" x="494" y="82">Domain_0</text>
</g>
</svg>
